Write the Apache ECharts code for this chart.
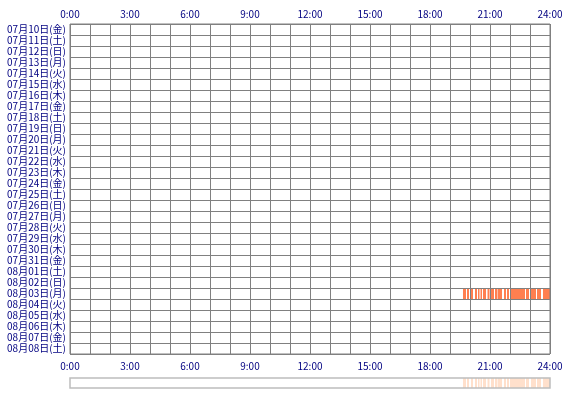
<!DOCTYPE html>
<html><head><meta charset="utf-8">
<script src="https://cdn.jsdelivr.net/npm/echarts@6/dist/echarts.min.js"></script>
<style>html,body{margin:0;padding:0;background:#fff}#c{width:570px;height:400px}</style>
</head><body><div id="c"></div>
<script>
const days = ['07月10日(金)','07月11日(土)','07月12日(日)','07月13日(月)','07月14日(火)','07月15日(水)','07月16日(木)','07月17日(金)','07月18日(土)','07月19日(日)','07月20日(月)','07月21日(火)','07月22日(水)','07月23日(木)','07月24日(金)','07月25日(土)','07月26日(日)','07月27日(月)','07月28日(火)','07月29日(水)','07月30日(木)','07月31日(金)','08月01日(土)','08月02日(日)','08月03日(月)','08月04日(火)','08月05日(水)','08月06日(木)','08月07日(金)','08月08日(土)'];
const activeDay = '08月03日(月)';
const segStart = [19.65,19.85,20.05,20.25,20.40,20.525,20.65,20.875,21.05,21.25,21.375,21.70,21.85,22.00,22.80,23.05,23.35,23.65];
const segEnd   = [19.80,19.95,20.15,20.35,20.475,20.60,20.80,20.975,21.20,21.35,21.60,21.80,21.95,22.75,22.95,23.30,23.55,24.00];
const hourLabels = ['0:00','3:00','6:00','9:00','12:00','15:00','18:00','21:00','24:00'];

const dayIdx = days.indexOf(activeDay);
const mainData = segStart.map((s,i)=>[dayIdx, s, segEnd[i]]);
const stripData = segStart.map((s,i)=>[0, s, segEnd[i]]);

function makeRender(color){
  return function(params, api){
    const d = api.value(0), s = api.value(1), e = api.value(2);
    const p0 = api.coord([s, d]); const p1 = api.coord([e, d]);
    const h = api.size([0, 1])[1];
    return {type:'rect', shape:{x:p0[0], y:p0[1]-h/2, width:p1[0]-p0[0], height:h}, style:{fill:color}};
  };
}
const font = '"Noto Sans CJK JP", sans-serif';
const labelFmt = v => (v % 3 === 0 ? hourLabels[v/3] : '');
const xCommon = {
  type:'value', min:0, max:24, interval:1, gridIndex:0, z:5,
  axisLine:{show:false}, axisTick:{show:false},
  splitLine:{show:true, lineStyle:{color:'#808080', width:1}},
  axisLabel:{color:'#000080', fontSize:10, fontFamily:font, formatter:labelFmt, showMinLabel:true, showMaxLabel:true}
};
const chart = echarts.init(document.getElementById('c'), null, {renderer:'canvas'});
chart.setOption({
  animation:false,
  grid:[
    {left:70, right:20, top:24, height:330, show:true, borderColor:'#808080', borderWidth:1, z:5},
    {left:70, right:20, top:378, height:10, show:true, borderColor:'#bdbdbd', borderWidth:1.5, z:5}
  ],
  xAxis:[
    Object.assign({}, xCommon, {position:'top', axisLabel:Object.assign({}, xCommon.axisLabel, {margin:5})}),
    Object.assign({}, xCommon, {position:'bottom', axisLabel:Object.assign({}, xCommon.axisLabel, {margin:7})}),
    {type:'value', min:0, max:24, gridIndex:1, show:false, splitLine:{show:false}}
  ],
  yAxis:[
    {type:'category', data:days, inverse:true, gridIndex:0, z:5,
     axisLine:{show:false}, axisTick:{show:false},
     splitLine:{show:true, lineStyle:{color:'#808080', width:1}},
     axisLabel:{color:'#000080', fontSize:10, fontFamily:font, margin:4, interval:0}},
    {type:'category', data:['x'], gridIndex:1, show:false}
  ],
  series:[
    {type:'custom', xAxisIndex:0, yAxisIndex:0, renderItem:makeRender('#FF7F50'), encode:{x:[1,2], y:0}, data:mainData, z:1},
    {type:'custom', xAxisIndex:2, yAxisIndex:1, renderItem:makeRender('#FFE0CC'), encode:{x:[1,2], y:0}, data:stripData, z:1}
  ]
});
</script></body></html>
